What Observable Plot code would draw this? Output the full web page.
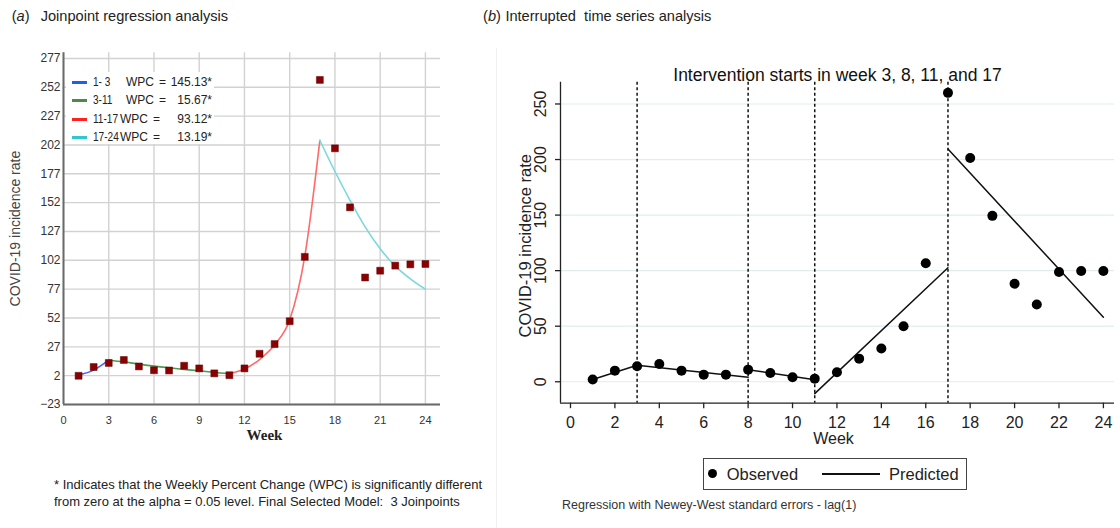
<!DOCTYPE html>
<html>
<head>
<meta charset="utf-8">
<script src="https://cdn.jsdelivr.net/npm/d3@7"></script>
<script src="https://cdn.jsdelivr.net/npm/@observablehq/plot@0.6"></script>
<style>
  body { margin: 0; background: #fff; }
  #root { position: relative; width: 1120px; height: 528px; overflow: hidden;
          font-family: "Liberation Sans", Arial, sans-serif; color: #222; }
  .abs { position: absolute; white-space: pre; line-height: 1; }
  .plot { position: absolute; top: 0; }
</style>
</head>
<body>
<div id="root"></div>
<script>
// ---------------- DATA ----------------
const weeks = [1,2,3,4,5,6,7,8,9,10,11,12,13,14,15,16,17,18,19,20,21,22,23,24];

// Panel (a): Joinpoint regression
const jpObserved = [1.9, 9.5, 13, 15.6, 10, 6.7, 6.5, 10.6, 8.3, 4, 2.4, 8.3, 21, 29.4, 49.2, 105, 258.4, 199.1, 147.9, 87.1, 93, 97.4, 98.5, 98.8];
const segLabels = ["1- 3", "3-11", "11-17", "17-24"];
const segWPC = ["145.13*", "15.67*", "93.12*", "13.19*"];
const segWeeks = [
  [1, 2, 3],
  [3, 4, 5, 6, 7, 8, 9, 10, 11],
  [11, 12, 13, 14, 15, 16, 17],
  [17, 18, 19, 20, 21, 22, 23, 24]
];
const segFit = [
  [2.6, 6.8, 15.4],
  [15.4, 14, 12, 10.3, 8.8, 7.4, 6.2, 4.8, 3.8],
  [3.8, 7.8, 16, 28.8, 50.4, 105.5, 206],
  [206, 179, 154, 131, 112, 97, 86, 77]
];
const xTicksA = [0, 3, 6, 9, 12, 15, 18, 21, 24];
const yTicksA = [-23, 2, 27, 52, 77, 102, 127, 152, 177, 202, 227, 252, 277];

// Panel (b): Interrupted time series
const itsObserved = [2, 10, 13.9, 16, 10, 6.4, 6.4, 10.9, 7.9, 4, 2.8, 8.5, 20.8, 29.9, 50, 106.6, 260, 201.3, 149.3, 88.2, 69.6, 98.7, 99.6, 99.6];
const interventionWeeks = [3, 8, 11, 17];
const predStartWeek = [1, 3, 8, 11, 17];
const predEndWeek = [3, 8, 11, 17, 24];
const predStartValue = [2, 14.8, 10.8, -10.7, 209.5];
const predEndValue = [14.8, 4, 1.9, 102.6, 58.1];
const xTicksB = [0, 2, 4, 6, 8, 10, 12, 14, 16, 18, 20, 22, 24];
const yTicksB = [0, 50, 100, 150, 200, 250];

// ---------------- STYLE ----------------
const segColors = ["#4a63f5", "#4f9a4f", "#ff6a6a", "#7ad9dc"];
const segLegendColors = ["#1f5fef", "#4a8a4a", "#ff2020", "#33c6d0"];
const squareColor = "#8b0000";

const root = document.getElementById("root");
function addText(txt, left, top, css) {
  const d = document.createElement("div");
  d.className = "abs";
  d.style.left = left + "px";
  d.style.top = top + "px";
  Object.assign(d.style, css || {});
  d.innerHTML = txt;
  root.appendChild(d);
  return d;
}

// ---------------- PANEL A ----------------
const obsA = weeks.map((w, i) => ({week: w, value: jpObserved[i]}));
const fitLines = segWeeks.map((ws, s) =>
  Plot.line(ws.map((w, i) => ({week: w, value: segFit[s][i]})),
    {x: "week", y: "value", stroke: segColors[s], strokeWidth: 1.6, curve: "monotone-x"}));

const plotA = Plot.plot({
  width: 450, height: 460,
  marginLeft: 63, marginRight: 10, marginTop: 52.2, marginBottom: 56,
  x: {domain: [0, 25]},
  y: {domain: [-23, 282]},
  style: {fontFamily: "Liberation Sans, Arial, sans-serif", background: "transparent", overflow: "visible"},
  marks: [
    Plot.gridX(xTicksA, {stroke: "#d2d2d2", strokeOpacity: 1, strokeWidth: 1.4}),
    Plot.gridY(yTicksA, {stroke: "#d2d2d2", strokeOpacity: 1, strokeWidth: 1.4}),
    Plot.axisX(xTicksA, {tickSize: 0, tickPadding: 12, fontSize: 11, color: "#333", label: null}),
    Plot.axisY(yTicksA, {tickSize: 0, tickPadding: 3, fontSize: 12, color: "#333", label: null}),
    Plot.ruleX([0], {stroke: "#6a6a6a", strokeWidth: 2}),
    Plot.ruleY([-23], {stroke: "#6a6a6a", strokeWidth: 2}),
    ...fitLines,
    Plot.dot(obsA, {x: "week", y: "value", symbol: "square", r: 3.9, fill: squareColor, stroke: "#5a0000", strokeWidth: 0.5}),
    Plot.text(["COVID-19 incidence rate"], {frameAnchor: "left", textAnchor: "middle", dx: -48, rotate: -90, fontSize: 14, fill: "#444"}),
    Plot.text(["Week"], {frameAnchor: "bottom", textAnchor: "middle", dx: 12.5, dy: 35, fontSize: 15, fontWeight: "bold",
      fontFamily: "Liberation Serif, Times New Roman, serif", fill: "#222"})
  ]
});
plotA.classList.add("plot");
plotA.style.left = "0px";
root.appendChild(plotA);

// Legend of panel A (white box inside plot)
const legA = document.createElement("div");
legA.className = "abs";
Object.assign(legA.style, {left: "66px", top: "72px", width: "148px", height: "72px", background: "#fff"});
root.appendChild(legA);
const rowY = [82.7, 100.7, 119, 137.3];
const wpcX = [126, 126, 120, 120];
const eqX = [159, 159, 153, 153];
segLabels.forEach((lab, i) => {
  const sw = document.createElement("div");
  sw.className = "abs";
  Object.assign(sw.style, {left: "71.7px", top: (rowY[i] - 1.5) + "px", width: "15.6px", height: "3px", background: segLegendColors[i]});
  root.appendChild(sw);
  const css = {fontSize: "12px", color: "#222"};
  addText(lab, 93, rowY[i] - 6.5, Object.assign({}, css, {transform: "scaleX(0.84)", transformOrigin: "0 50%"}));
  addText("WPC", wpcX[i], rowY[i] - 6.5, css);
  addText("=", eqX[i], rowY[i] - 6.5, css);
  addText(segWPC[i], 0, rowY[i] - 6.5, Object.assign({}, css, {textAlign: "right", width: "212px"}));
});

// Titles & footnote panel A
addText("(<i>a</i>)", 11.7, 9, {fontSize: "14.6px", color: "#222"});
addText("Joinpoint regression analysis", 40.7, 9, {fontSize: "14.6px", color: "#222"});
addText("* Indicates that the Weekly Percent Change (WPC) is significantly different", 54, 477.5, {fontSize: "13px", color: "#222"});
addText("from zero at the alpha = 0.05 level. Final Selected Model:  3 Joinpoints", 54, 495, {fontSize: "13px", color: "#222"});

// faint panel border
const sep = document.createElement("div");
sep.className = "abs";
Object.assign(sep.style, {left: "496px", top: "48px", width: "1px", height: "480px", background: "#eef1f1"});
root.appendChild(sep);

// ---------------- PANEL B ----------------
const obsB = weeks.map((w, i) => ({week: w, value: itsObserved[i]}));
const predRows = [];
predStartWeek.forEach((w, s) => {
  predRows.push({segment: s, week: w, value: predStartValue[s]});
  predRows.push({segment: s, week: predEndWeek[s], value: predEndValue[s]});
});
const xDomB = [-0.45, 24.5];
const yDomB = [-19.3, 269.6];

const plotB = Plot.plot({
  width: 640, height: 460,
  marginLeft: 80, marginRight: 6, marginTop: 81.7, marginBottom: 57.3,
  x: {domain: xDomB},
  y: {domain: yDomB},
  style: {fontFamily: "Liberation Sans, Arial, sans-serif", background: "transparent", overflow: "visible"},
  marks: [
    Plot.gridY(yTicksB, {stroke: "#e1eced", strokeOpacity: 1, strokeWidth: 1.2}),
    Plot.ruleX(interventionWeeks, {stroke: "#111", strokeWidth: 1.5, strokeDasharray: "3,2.5"}),
    Plot.ruleX([xDomB[0]], {stroke: "#222", strokeWidth: 1.3}),
    Plot.ruleY([yDomB[0]], {stroke: "#222", strokeWidth: 1.3}),
    Plot.axisX(xTicksB, {tickSize: 5.5, tickPadding: 8, fontSize: 16, color: "#222", label: null, strokeWidth: 1.3}),
    Plot.axisY(yTicksB, {tickSize: 5, tickFormat: () => "", label: null, color: "#222", strokeWidth: 1.3}),
    Plot.text(yTicksB, {y: d => d, text: d => String(d), frameAnchor: "left", textAnchor: "middle", dx: -20, rotate: -90, fontSize: 16, fill: "#222"}),
    Plot.text(["COVID-19 incidence rate"], {frameAnchor: "left", textAnchor: "middle", dx: -35, dy: 3, rotate: -90, fontSize: 16.5, fill: "#222"}),
    Plot.line(predRows, {x: "week", y: "value", z: "segment", stroke: "#111", strokeWidth: 1.5}),
    Plot.dot(obsB, {x: "week", y: "value", r: 5, fill: "#000"}),
    Plot.text(["Intervention starts in week 3, 8, 11, and 17"], {frameAnchor: "top", textAnchor: "middle", dy: -13.7, fontSize: 17.5, fill: "#111"}),
    Plot.text(["Week"], {frameAnchor: "bottom", textAnchor: "middle", dx: -4, dy: 41, fontSize: 16, fill: "#222"})
  ]
});
plotB.classList.add("plot");
plotB.style.left = "480px";
root.appendChild(plotB);

// Legend panel B
const legB = document.createElement("div");
legB.className = "abs";
Object.assign(legB.style, {left: "703px", top: "458px", width: "262px", height: "30px", border: "1px solid #444", background: "#fff"});
root.appendChild(legB);
const dotB = document.createElement("div");
dotB.className = "abs";
Object.assign(dotB.style, {left: "708.2px", top: "469px", width: "9px", height: "9px", borderRadius: "50%", background: "#000"});
root.appendChild(dotB);
addText("Observed", 726.7, 465.5, {fontSize: "16.5px", color: "#222"});
const lineB = document.createElement("div");
lineB.className = "abs";
Object.assign(lineB.style, {left: "822px", top: "473px", width: "58px", height: "1.5px", background: "#111"});
root.appendChild(lineB);
addText("Predicted", 889, 465.5, {fontSize: "16.5px", color: "#222"});

// Titles & caption panel B
addText("(<i>b</i>)", 483, 9, {fontSize: "14.6px", color: "#222"});
addText("Interrupted  time series analysis", 505.4, 9, {fontSize: "14.6px", color: "#222"});
addText("Regression with Newey-West standard errors - lag(1)", 562, 498.5, {fontSize: "12.5px", color: "#333"});
</script>
</body>
</html>
